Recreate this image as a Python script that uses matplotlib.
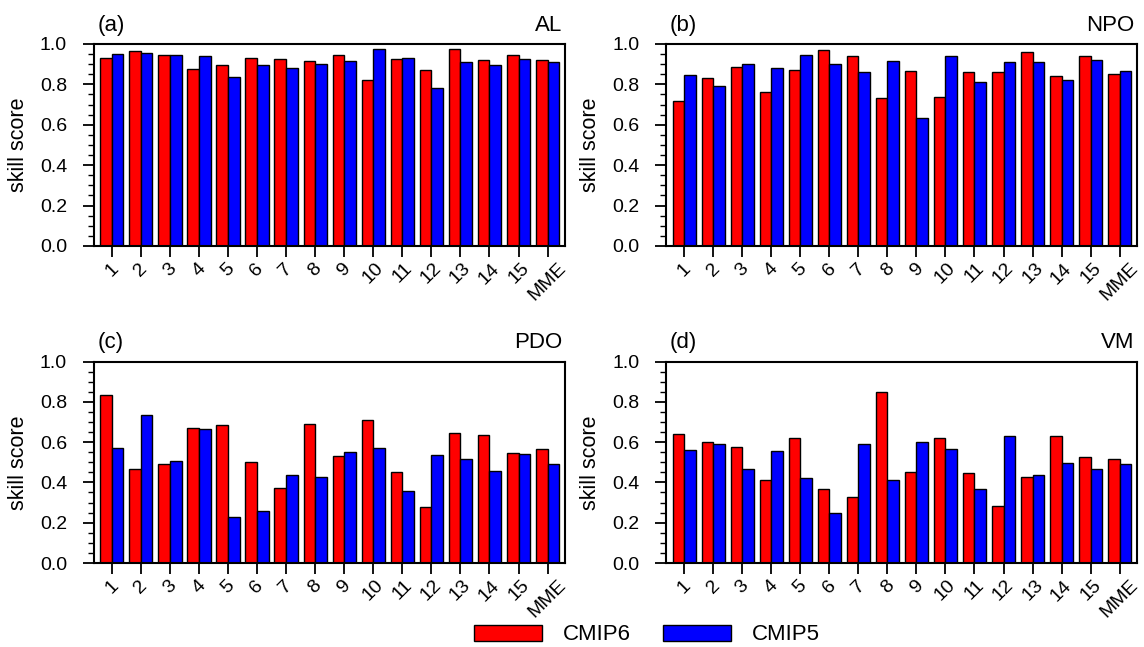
import numpy as np
import matplotlib
matplotlib.use("Agg")
import matplotlib.pyplot as plt
from matplotlib.ticker import MultipleLocator

plt.rcParams["font.family"] = ["Liberation Sans", "DejaVu Sans"]

labels = [str(i) for i in range(1, 16)] + ["MME"]

# skill scores (CMIP6 red, CMIP5 blue)
al_cmip6 = [0.929, 0.964, 0.944, 0.875, 0.898, 0.931, 0.924, 0.914, 0.944, 0.822, 0.926, 0.870, 0.974, 0.921, 0.946, 0.919]
al_cmip5 = [0.949, 0.955, 0.947, 0.939, 0.835, 0.894, 0.880, 0.901, 0.916, 0.974, 0.931, 0.782, 0.909, 0.898, 0.924, 0.909]

npo_cmip6 = [0.719, 0.830, 0.884, 0.761, 0.871, 0.969, 0.941, 0.731, 0.868, 0.736, 0.860, 0.863, 0.959, 0.840, 0.942, 0.853]
npo_cmip5 = [0.845, 0.792, 0.899, 0.880, 0.944, 0.899, 0.860, 0.917, 0.634, 0.939, 0.810, 0.911, 0.909, 0.820, 0.922, 0.865]

pdo_cmip6 = [0.836, 0.467, 0.493, 0.668, 0.686, 0.500, 0.370, 0.688, 0.533, 0.711, 0.453, 0.276, 0.645, 0.633, 0.545, 0.566]
pdo_cmip5 = [0.571, 0.736, 0.508, 0.663, 0.228, 0.257, 0.437, 0.429, 0.550, 0.571, 0.359, 0.535, 0.515, 0.455, 0.543, 0.490]

vm_cmip6 = [0.638, 0.601, 0.578, 0.410, 0.621, 0.365, 0.329, 0.847, 0.452, 0.619, 0.445, 0.282, 0.429, 0.630, 0.528, 0.518]
vm_cmip5 = [0.560, 0.593, 0.465, 0.558, 0.420, 0.249, 0.590, 0.410, 0.601, 0.568, 0.369, 0.631, 0.439, 0.498, 0.465, 0.493]

panels = [
    ("(a)", "AL", al_cmip6, al_cmip5),
    ("(b)", "NPO", npo_cmip6, npo_cmip5),
    ("(c)", "PDO", pdo_cmip6, pdo_cmip5),
    ("(d)", "VM", vm_cmip6, vm_cmip5),
]

W, H = 1144, 647
fig = plt.figure(figsize=(W / 100, H / 100), dpi=100)

# axes boxes in pixels: left, right, top, bottom
boxes = [(93.5, 565, 44, 246), (666, 1137, 44, 246),
         (93.5, 565, 361.5, 563), (666, 1137, 361.5, 563)]

x = np.arange(1, 17)
w = 0.4

for (tag, name, c6, c5), (l, r, t, b) in zip(panels, boxes):
    ax = fig.add_axes([l / W, 1 - b / H, (r - l) / W, (b - t) / H])
    ax.bar(x - w / 2, c6, w, color="red", edgecolor="black", linewidth=1.0, label="CMIP6")
    ax.bar(x + w / 2, c5, w, color="blue", edgecolor="black", linewidth=1.0, label="CMIP5")
    ax.set_xlim(0.37, 16.6)
    ax.set_ylim(0, 1.0)
    ax.yaxis.set_minor_locator(MultipleLocator(0.05))
    ax.set_yticks(np.arange(0, 1.01, 0.2))
    ax.set_yticklabels(["%.1f" % v for v in np.arange(0, 1.01, 0.2)])
    ax.set_xticks(x)
    ax.set_xticklabels(labels, rotation=45, ha="center", va="top")
    ax.tick_params(axis="both", which="major", length=8, width=1.3, labelsize=14, direction="out")
    ax.tick_params(axis="y", which="major", pad=11)
    ax.tick_params(axis="x", which="major", pad=2)
    ax.tick_params(axis="y", which="minor", length=4, width=1.0, direction="out")
    ax.tick_params(axis="x", which="minor", bottom=False)
    for s in ax.spines.values():
        s.set_linewidth(1.5)
    ax.set_ylabel("skill score", fontsize=15.5, labelpad=8)
    ax.text(0.008, 1.04, tag, transform=ax.transAxes, fontsize=16, ha="left", va="bottom")
    ax.text(0.995, 1.04, name, transform=ax.transAxes, fontsize=16, ha="right", va="bottom")

handles, lbls = ax.get_legend_handles_labels()
fig.legend(handles, lbls, loc="center", bbox_to_anchor=(647 / W, 1 - 635 / H), ncol=2,
           frameon=False, fontsize=16, handlelength=3.05, handleheight=0.7,
           handletextpad=0.96, columnspacing=1.45)

fig.savefig("out.png", dpi=100)
